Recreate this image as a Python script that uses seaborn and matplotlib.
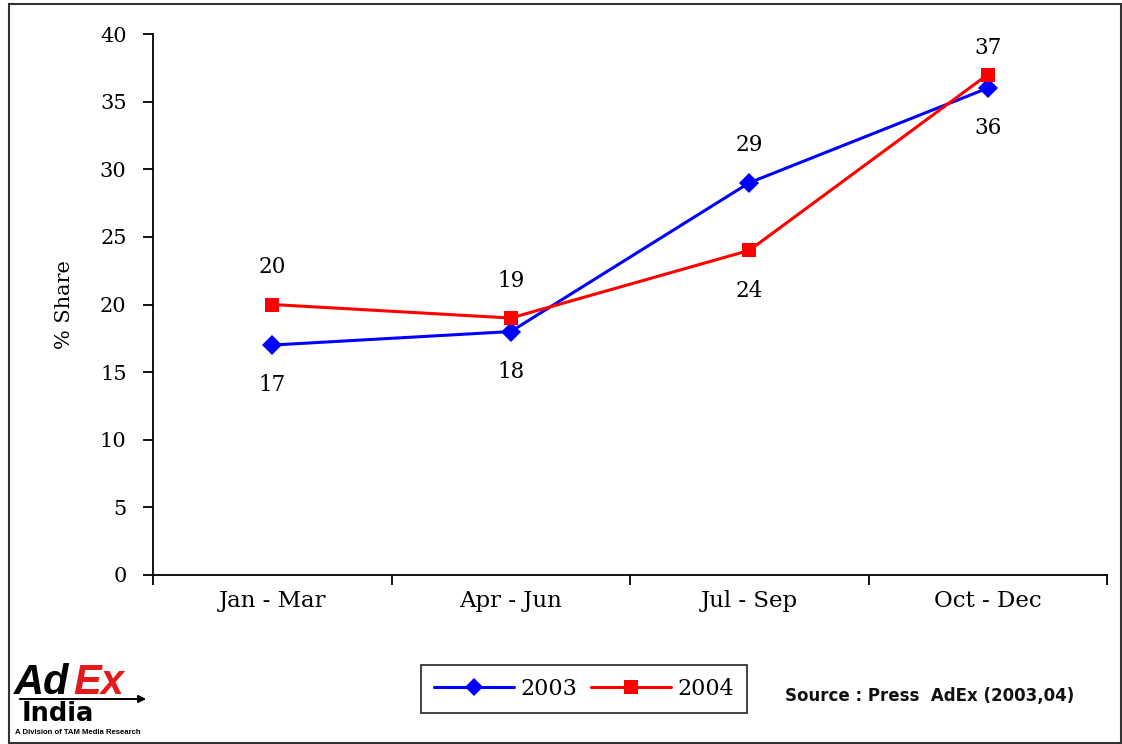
import numpy as np
import pandas as pd
import matplotlib
matplotlib.use("Agg")
import matplotlib.pyplot as plt
import seaborn as sns
from matplotlib.patches import Rectangle, FancyArrowPatch
from matplotlib.lines import Line2D

# Quarterly % share of press advertising
quarters = ["Jan - Mar", "Apr - Jun", "Jul - Sep", "Oct - Dec"]
share_2003 = [17, 18, 29, 36]
share_2004 = [20, 19, 24, 37]
years = ["2003", "2004"]
y_ticks = [0, 5, 10, 15, 20, 25, 30, 35, 40]

sns.set_theme(style="white")
plt.rcParams["font.family"] = ["DejaVu Serif"]

colors = {"2003": "#0000FF", "2004": "#FF0000"}
markers = {"2003": "D", "2004": "s"}

positions = np.arange(len(quarters)) + 0.5
df = pd.DataFrame({
    "pos": np.concatenate([positions, positions]),
    "share": share_2003 + share_2004,
    "year": [years[0]] * len(quarters) + [years[1]] * len(quarters),
})

fig = plt.figure(figsize=(11.22, 7.44), dpi=100)
ax = fig.add_axes([153 / 1122, 1 - 575 / 744, (1107 - 153) / 1122, (575 - 34) / 744])

sns.lineplot(data=df, x="pos", y="share", hue="year", style="year",
             palette=colors, markers=markers, dashes=False,
             linewidth=2.2, markersize=10, markeredgewidth=0,
             legend=False, ax=ax)

ax.set_xlim(0, len(quarters))
ax.set_ylim(y_ticks[0], y_ticks[-1])

# boundaries between quarters get tick marks; names sit centred between them
ax.set_xticks(np.arange(len(quarters) + 1))
ax.set_xticklabels([])
ax.set_xticks(positions, minor=True)
ax.set_xticklabels(quarters, minor=True, fontsize=16.5)
ax.tick_params(axis="x", which="major", direction="out", length=7, width=1.3,
               color="black", bottom=True)
ax.tick_params(axis="x", which="minor", length=0, pad=11)
ax.set_yticks(y_ticks)
ax.set_yticklabels([str(t) for t in y_ticks], fontsize=15)
ax.tick_params(axis="y", direction="out", length=7, width=1.3, color="black",
               left=True, pad=12)
for lbl in ax.get_xticklabels(minor=True) + ax.get_yticklabels():
    lbl.set_color("black")

ax.set_xlabel("")
ax.set_ylabel("% Share", fontsize=15, color="black")
ax.yaxis.set_label_coords(-0.083, 0.5)

for side in ["top", "right"]:
    ax.spines[side].set_visible(False)
for side in ["left", "bottom"]:
    ax.spines[side].set_color("black")
    ax.spines[side].set_linewidth(1.3)

# value labels: higher series above its point, lower series below
for x, a, b in zip(positions, share_2003, share_2004):
    hi, lo = (a, b) if a > b else (b, a)
    up = 27 if hi < 35 else 19
    ax.annotate(str(hi), (x, hi), xytext=(0, up), textcoords="offset points",
                ha="center", va="center", fontsize=15.5, color="black")
    ax.annotate(str(lo), (x, lo), xytext=(0, -29), textcoords="offset points",
                ha="center", va="center", fontsize=15.5, color="black")

handles = [Line2D([0], [0], color=colors[y], lw=2.2, marker=markers[y],
                  markersize=10 if y == "2004" else 9, markeredgewidth=0)
           for y in years]
leg = fig.legend(handles, years, loc="center", bbox_to_anchor=(584 / 1122, 1 - 689 / 744),
                 ncol=2, fontsize=16, frameon=True, fancybox=False,
                 handlelength=3.6, columnspacing=0.6, handletextpad=0.3,
                 borderpad=0.6)
leg.get_frame().set_edgecolor("black")
leg.get_frame().set_linewidth(1.3)
for t in leg.get_texts():
    t.set_color("black")

fig.text(785 / 1122, 1 - 696 / 744, "Source : Press  AdEx (2003,04)",
         family="DejaVu Sans", fontsize=12, weight="bold", va="center",
         ha="left", color="#111111")

# AdEx India logo
fig.text(14 / 1122, 1 - 694 / 744, "Ad", family="Liberation Sans", fontsize=30,
         weight="bold", style="italic", color="black", va="baseline")
fig.text(73 / 1122, 1 - 694 / 744, "Ex", family="Liberation Sans", fontsize=30,
         weight="bold", style="italic", color="#E31A1C", va="baseline")
fig.add_artist(FancyArrowPatch(
    (17 / 1122, 1 - 699 / 744), (149 / 1122, 1 - 699 / 744),
    transform=fig.transFigure, arrowstyle="-|>", mutation_scale=11,
    lw=1.4, color="black"))
fig.text(22 / 1122, 1 - 721 / 744, "India", family="DejaVu Sans", fontsize=18.5,
         weight="bold", color="black", va="baseline")
fig.text(15 / 1122, 1 - 732 / 744, "A Division of TAM Media Research",
         family="Liberation Sans", fontsize=5.6, weight="bold", color="black",
         va="center")

fig.add_artist(Rectangle((9 / 1122, 1.5 / 744), (1120.5 - 9) / 1122, (744 - 4 - 1.5) / 744,
                         transform=fig.transFigure, fill=False, lw=1.5,
                         edgecolor="#333333"))

fig.savefig("out.png", dpi=100)
